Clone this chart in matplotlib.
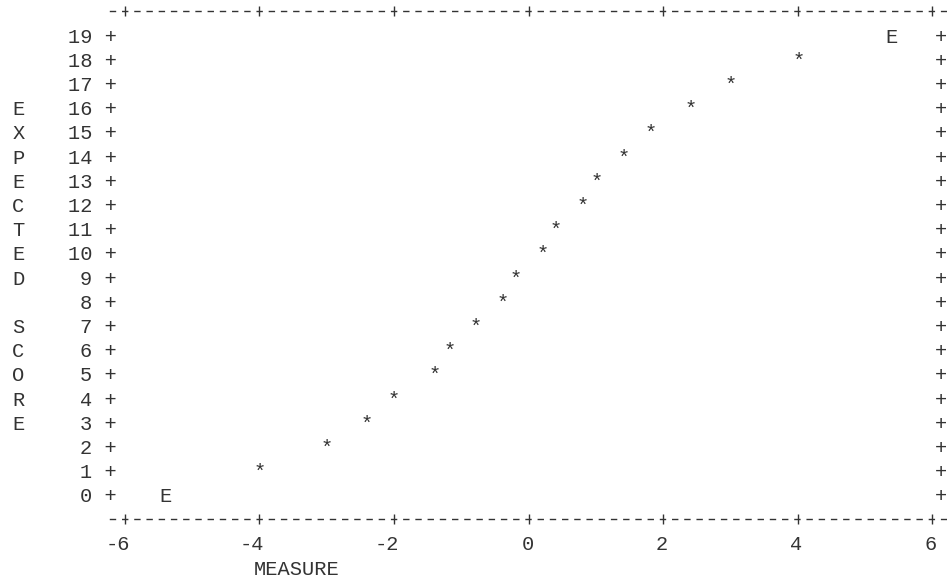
import matplotlib
matplotlib.use('Agg')
import matplotlib.pyplot as plt
from matplotlib import transforms as mtransforms

# ---- data ----
measure = [-4.0, -3.0, -2.4, -2.0, -1.4, -1.18, -0.79, -0.39, -0.19,
           0.21, 0.41, 0.80, 1.01, 1.41, 1.82, 2.41, 3.00, 4.01]
expected_score = [1, 2, 3, 4, 5, 6, 7, 8, 9, 10, 11, 12, 13, 14, 15, 16, 17, 18]
extreme_measure = [-5.4, 5.4]
extreme_score = [0, 19]
x_ticks = [-6, -4, -2, 0, 2, 4, 6]
y_ticks = list(range(0, 20))
x_label = 'MEASURE'
y_label = 'EXPECTED SCORE'

FONT = 'Liberation Mono'
FS = 14.7
INK = '#333333'
plt.rcParams['lines.scale_dashes'] = False

fig = plt.figure(figsize=(9.47, 5.78), dpi=100)
fig.patch.set_facecolor('white')
ax = fig.add_axes([109 / 947, 1 - 519 / 578, 838 / 947, 508.2 / 578])
ax.set_xlim(-6.237, 6.22)
ax.set_ylim(-1, 20)

for s in ('left', 'right'):
    ax.spines[s].set_visible(False)
for s in ('top', 'bottom'):
    ax.spines[s].set_linestyle((8.09, (3.6, 5.2)))
    ax.spines[s].set_linewidth(1.0)
    ax.spines[s].set_color(INK)

# x axis: '+' on both borders, labels below
ax.set_xticks(x_ticks)
ax.set_xticklabels([str(t) for t in x_ticks], fontfamily=FONT, fontsize=FS, color=INK)
ax.tick_params(axis='x', direction='inout', length=6.5, width=1.0, color=INK,
               top=True, bottom=True, labelbottom=True, labeltop=False, pad=8.3)
offset = mtransforms.ScaledTranslation(5 / 100, 0, fig.dpi_scale_trans)
for lab in ax.get_xticklabels():
    lab.set_horizontalalignment('right')
    lab.set_transform(lab.get_transform() + offset)

# y axis: "nn +" on left
ax.set_yticks(y_ticks)
ax.set_yticklabels([f'{t} +' for t in y_ticks], fontfamily=FONT, fontsize=FS, color=INK)
ax.tick_params(axis='y', length=0, left=True, right=False, labelleft=True,
               labelright=False, pad=-5.76)

# right column of '+'
axr = ax.twinx()
axr.set_ylim(ax.get_ylim())
for s in axr.spines.values():
    s.set_visible(False)
axr.set_yticks(y_ticks)
axr.set_yticklabels(['+' for _ in y_ticks], fontfamily=FONT, fontsize=FS, color=INK)
axr.tick_params(axis='y', length=0, pad=-9.0)

# points
for x, y in zip(measure, expected_score):
    ax.text(x, y, '*', ha='center', va='center_baseline', fontfamily=FONT,
            fontsize=FS, color=INK)
for x, y in zip(extreme_measure, extreme_score):
    ax.text(x, y, 'E', ha='center', va='center_baseline', fontfamily=FONT,
            fontsize=FS, color=INK)

# axis titles
ax.set_xlabel(x_label, fontfamily=FONT, fontsize=FS, color=INK)
ax.xaxis.set_label_coords(0.2233, -0.0952)
ax.xaxis.label.set_va('center_baseline')

ytrans = mtransforms.blended_transform_factory(ax.transAxes, ax.transData)
for i, ch in enumerate(y_label):
    if ch.strip():
        ax.text(-0.1082, 16 - i, ch, transform=ytrans, ha='center',
                va='center_baseline', fontfamily=FONT, fontsize=FS, color=INK)

fig.savefig('out.png', dpi=100, facecolor='white')
